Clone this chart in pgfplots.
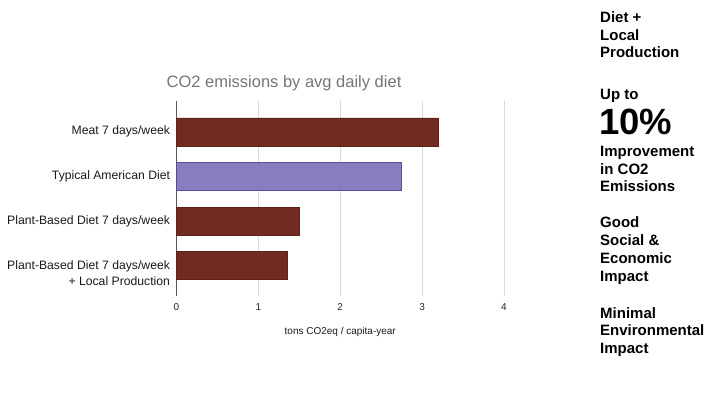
\documentclass[border=0pt]{standalone}
\usepackage{pgfplots}
\pgfplotsset{compat=1.18}
\usepackage{fontspec}
\setmainfont{Liberation Sans}
\setsansfont{Liberation Sans}
\definecolor{barred}{HTML}{722B22}
\definecolor{barredline}{HTML}{5E2219}
\definecolor{barpurple}{HTML}{8A7DBF}
\definecolor{barpurpleline}{HTML}{5B4A9E}
\definecolor{titlegray}{HTML}{757575}
\definecolor{gridgray}{HTML}{DADADA}
\begin{document}
\begin{tikzpicture}
\path[use as bounding box] (0pt,0pt) rectangle (709pt,398pt);
\begin{axis}[
  at={(176.5pt,102pt)}, anchor=south west,
  scale only axis, width=327.5pt, height=195pt,
  xmin=0, xmax=4,
  ymin=-0.69, ymax=3.68, y dir=reverse,
  clip=false,
  xbar, bar width=28pt, bar shift=0pt,
  axis line style={draw=none},
  xtick={0,1,2,3,4},
  xmajorgrids, major grid style={draw=gridgray,line width=1pt},
  major tick length=0pt,
  ytick={0,1,2},
  yticklabels={Meat 7 days/week,Typical American Diet,Plant-Based Diet 7 days/week},
  extra y ticks={3},
  extra y tick labels={{Plant-Based Diet 7 days/week\\+ Local Production}},
  extra y tick style={yticklabel style={yshift=-7pt}},
  yticklabel style={align=right,font=\fontsize{12.2}{16}\selectfont,text=black!90,xshift=-3pt},
  xticklabel style={font=\fontsize{10}{12}\selectfont,text=black!85,yshift=-4pt},
  /pgf/number format/assume math mode=true,
  xlabel={tons CO2eq / capita-year},
  xlabel style={font=\fontsize{10}{12}\selectfont,text=black!90,yshift=-10pt},
]
\addplot[sharp plot,draw=black!65,line width=1.2pt,mark=none,forget plot] coordinates {(0,-0.69) (0,3.68)};
\addplot[fill=barred,draw=barredline] coordinates {(3.2,0) (1.5,2) (1.35,3)};
\addplot[fill=barpurple,draw=barpurpleline] coordinates {(2.75,1)};
\end{axis}
\node[anchor=base,font=\fontsize{16.5}{20}\selectfont,text=titlegray] at (284pt,310pt) {CO2 emissions by avg daily diet};
\begin{scope}[every node/.style={anchor=base west,inner sep=0pt,font=\fontsize{15}{18}\selectfont\bfseries}]
\node at (600pt,375pt) {Diet +};
\node at (600pt,357pt) {Local};
\node at (600pt,340pt) {Production};
\node at (600pt,298pt) {Up to};
\node[font=\fontsize{36.5}{40}\selectfont\bfseries] at (599pt,263pt) {10\%};
\node at (600pt,241pt) {Improvement};
\node at (600pt,223pt) {in CO2};
\node at (600pt,206pt) {Emissions};
\node at (600pt,170pt) {Good};
\node at (600pt,152pt) {Social \&};
\node at (600pt,134pt) {Economic};
\node at (600pt,116pt) {Impact};
\node at (600pt,79pt) {Minimal};
\node at (600pt,62pt) {Environmental};
\node at (600pt,44pt) {Impact};
\end{scope}
\end{tikzpicture}
\end{document}
